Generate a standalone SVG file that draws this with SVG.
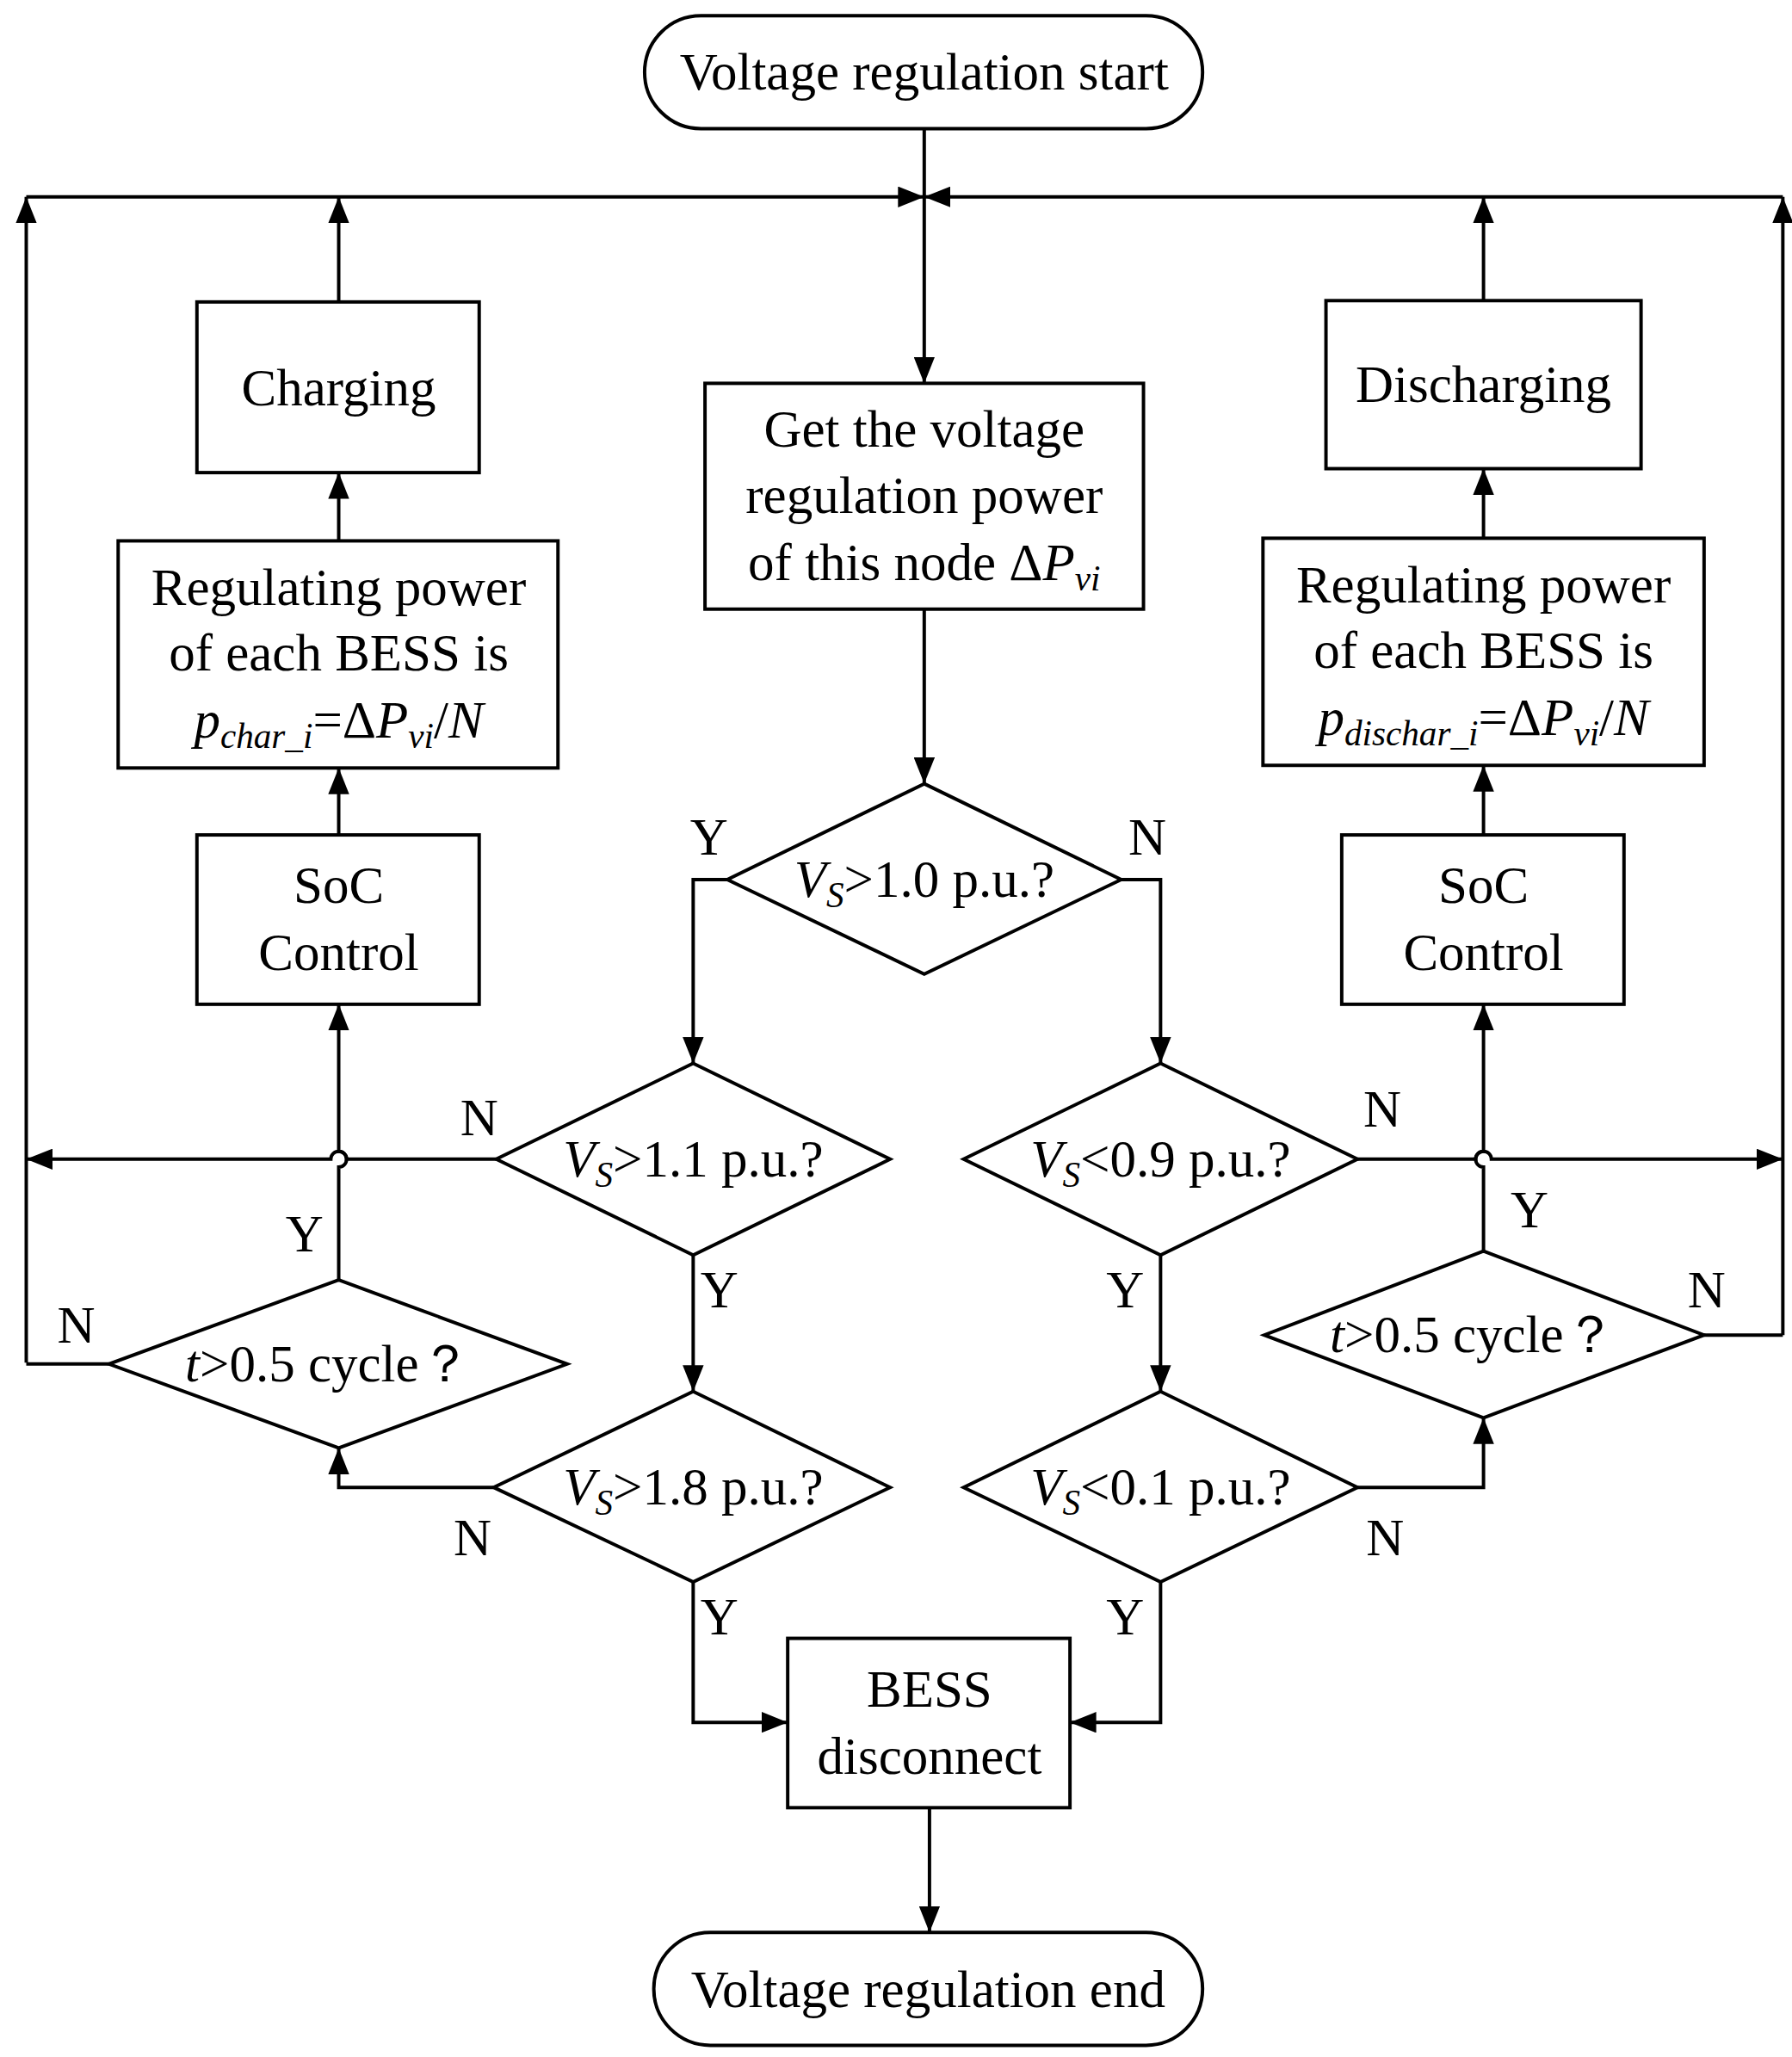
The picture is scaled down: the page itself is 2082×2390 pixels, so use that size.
<svg xmlns="http://www.w3.org/2000/svg" width="2082" height="2390" viewBox="0 0 2082 2390">
<style>
.s{fill:#fff;stroke:#000;stroke-width:2.6}
.c{fill:none;stroke:#000;stroke-width:2.6}
text{font-family:"Liberation Serif","Times New Roman",serif;font-size:40px;fill:#000;text-anchor:middle}
.i{font-style:italic}
.sb{font-size:27px;font-style:italic}
</style>
<defs>
<marker id="a" markerUnits="userSpaceOnUse" markerWidth="22" markerHeight="16" refX="20" refY="8" orient="auto">
<path d="M0,0 L20,8 L0,16 Z" fill="#000"/>
</marker>
</defs>
<rect width="2082" height="2390" fill="#fff"/>
<g transform="scale(1.5253)">
<g id="connectors" class="c" marker-end="url(#a)">
<path d="M20,1038 V150" marker-end="url(#a)"/>
<path d="M20,150 H704"/>
<path d="M1358,150 H704"/>
<path d="M1358,1017 V150"/>
<path d="M258,230 V150"/>
<path d="M1130,229 V150"/>
<path d="M704,98 V292"/>
<path d="M258,412 V360"/>
<path d="M258,636 V585"/>
<path d="M1130,410 V357"/>
<path d="M1130,636 V583"/>
<path d="M704,464 V597"/>
<path d="M554,670 H528 V810"/>
<path d="M854,670 H884 V810"/>
<path d="M378,883 H264 A6 6 0 0 0 252 883 H20"/>
<path d="M1034,883 H1124 A6 6 0 0 1 1136 883 H1358"/>
<path d="M258,975 V889 A6 6 0 0 0 258 877 V765"/>
<path d="M1130,953 V889 A6 6 0 0 1 1130 877 V765"/>
<path d="M528,956 V1060"/>
<path d="M884,956 V1060"/>
<path d="M376,1133 H258 V1103"/>
<path d="M1034,1133 H1130 V1080"/>
<path d="M83,1039 H20" marker-end="none"/>
<path d="M1298,1017 H1358" marker-end="none"/>
<path d="M528,1205 V1312 H600"/>
<path d="M884,1205 V1312 H815"/>
<path d="M708,1377 V1472"/>
</g>
<g id="start"><rect class="s" x="491" y="12" width="425" height="86" rx="43"/><text x="704" y="68">Voltage regulation start</text></g>
<g id="charging"><rect class="s" x="150" y="230" width="215" height="130"/><text x="258" y="309">Charging</text></g>
<g id="regL"><rect class="s" x="90" y="412" width="335" height="173"/><text x="258" y="461">Regulating power</text><text x="258" y="511">of each BESS is</text><text x="258" y="562"><tspan class="i">p</tspan><tspan class="sb" dy="8">char_i</tspan><tspan dy="-8">=Δ</tspan><tspan class="i">P</tspan><tspan class="sb" dy="8">vi</tspan><tspan dy="-8">/</tspan><tspan class="i">N</tspan></text></g>
<g id="socL"><rect class="s" x="150" y="636" width="215" height="129"/><text x="258" y="688">SoC</text><text x="258" y="739">Control</text></g>
<g id="get"><rect class="s" x="537" y="292" width="334" height="172"/><text x="704" y="340">Get the  voltage</text><text x="704" y="391">regulation power</text><text x="704" y="442">of this node Δ<tspan class="i">P</tspan><tspan class="sb" dy="8">vi</tspan></text></g>
<g id="discharging"><rect class="s" x="1010" y="229" width="240" height="128"/><text x="1130" y="306">Discharging</text></g>
<g id="regR"><rect class="s" x="962" y="410" width="336" height="173"/><text x="1130" y="459">Regulating power</text><text x="1130" y="509">of each BESS is</text><text x="1130" y="560"><tspan class="i">p</tspan><tspan class="sb" dy="8">dischar_i</tspan><tspan dy="-8">=Δ</tspan><tspan class="i">P</tspan><tspan class="sb" dy="8">vi</tspan><tspan dy="-8">/</tspan><tspan class="i">N</tspan></text></g>
<g id="socR"><rect class="s" x="1022" y="636" width="215" height="129"/><text x="1130" y="688">SoC</text><text x="1130" y="739">Control</text></g>
<g id="d1"><path class="s" d="M704,597 L854,670 L704,742 L554,670 Z"/><text x="704" y="683"><tspan class="i">V</tspan><tspan class="sb" dy="8">S</tspan><tspan dy="-8">&gt;1.0 p.u.?</tspan></text></g>
<g id="d2L"><path class="s" d="M528,810 L678,883 L528,956 L378,883 Z"/><text x="528" y="896"><tspan class="i">V</tspan><tspan class="sb" dy="8">S</tspan><tspan dy="-8">&gt;1.1 p.u.?</tspan></text></g>
<g id="d2R"><path class="s" d="M884,810 L1034,883 L884,956 L734,883 Z"/><text x="884" y="896"><tspan class="i">V</tspan><tspan class="sb" dy="8">S</tspan><tspan dy="-8">&lt;0.9 p.u.?</tspan></text></g>
<g id="d3L"><path class="s" d="M528,1060 L678,1133 L528,1205 L376,1133 Z"/><text x="528" y="1146"><tspan class="i">V</tspan><tspan class="sb" dy="8">S</tspan><tspan dy="-8">&gt;1.8 p.u.?</tspan></text></g>
<g id="d3R"><path class="s" d="M884,1060 L1034,1133 L884,1205 L734,1133 Z"/><text x="884" y="1146"><tspan class="i">V</tspan><tspan class="sb" dy="8">S</tspan><tspan dy="-8">&lt;0.1 p.u.?</tspan></text></g>
<g id="tL"><path class="s" d="M258,975 L432,1039 L258,1103 L83,1039 Z"/><text x="250" y="1052"><tspan class="i">t</tspan>&gt;0.5 cycle？</text></g>
<g id="tR"><path class="s" d="M1130,953 L1298,1017 L1130,1080 L963,1017 Z"/><text x="1122" y="1030"><tspan class="i">t</tspan>&gt;0.5 cycle？</text></g>
<g id="bess"><rect class="s" x="600" y="1248" width="215" height="129"/><text x="708" y="1300">BESS</text><text x="708" y="1351">disconnect</text></g>
<g id="end"><rect class="s" x="498" y="1472" width="418" height="86" rx="43"/><text x="707" y="1529">Voltage regulation end</text></g>
<g id="labels">
<text x="540" y="651">Y</text><text x="874" y="651">N</text>
<text x="365" y="865">N</text><text x="1053" y="858">N</text>
<text x="548" y="996">Y</text><text x="857" y="996">Y</text>
<text x="232" y="953">Y</text><text x="1165" y="935">Y</text>
<text x="58" y="1023">N</text><text x="1300" y="996">N</text>
<text x="360" y="1185">N</text><text x="1055" y="1185">N</text>
<text x="548" y="1245">Y</text><text x="857" y="1245">Y</text>
</g>
</g>
</svg>
